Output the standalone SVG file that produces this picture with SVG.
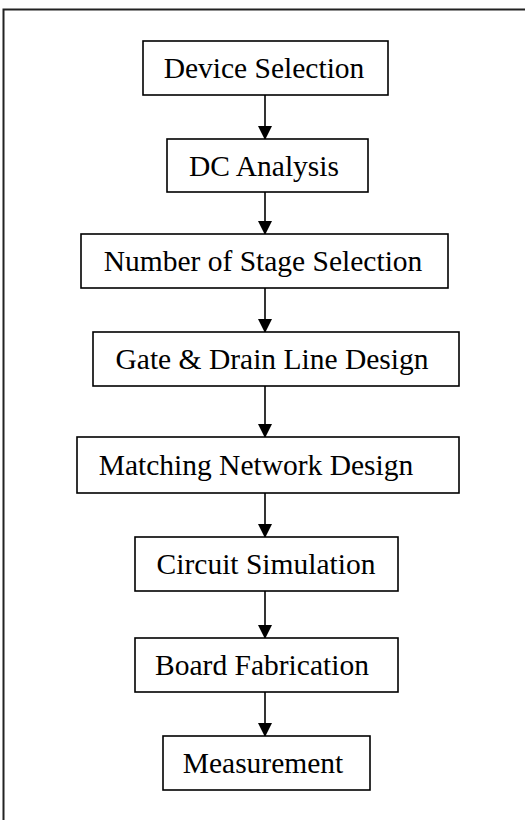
<svg xmlns="http://www.w3.org/2000/svg" width="525" height="820" viewBox="0 0 525 820">
<style>
.box{fill:#fff;stroke:#000;stroke-width:1.6}
.lbl{font-family:"Liberation Serif","Times New Roman",serif;font-size:29.5px;fill:#000;text-anchor:middle}
.frame{fill:none;stroke:#222;stroke-width:2}
.edge{stroke:#000;stroke-width:1.6;fill:none;marker-end:url(#ah)}
</style>
<defs>
<marker id="ah" markerUnits="userSpaceOnUse" markerWidth="14" markerHeight="16" refX="13" refY="7" orient="auto">
<path d="M0,0 L14,7 L0,14 Z" fill="#000"/>
</marker>
</defs>
<path class="frame" d="M3.5,830 L3.5,9.5 L530,9.5"/>
<g id="connectors">
<line class="edge" x1="265" y1="95" x2="265" y2="139"/>
<line class="edge" x1="265" y1="192" x2="265" y2="234"/>
<line class="edge" x1="265" y1="288" x2="265" y2="332"/>
<line class="edge" x1="265" y1="386" x2="265" y2="437"/>
<line class="edge" x1="265" y1="493" x2="265" y2="537"/>
<line class="edge" x1="265" y1="591" x2="265" y2="638"/>
<line class="edge" x1="265" y1="692" x2="265" y2="736"/>
</g>
<g id="n1"><rect class="box" x="143" y="41" width="245" height="54"/><text class="lbl" x="264" y="78">Device Selection</text></g>
<g id="n2"><rect class="box" x="167" y="139" width="201" height="53"/><text class="lbl" x="264" y="176">DC Analysis</text></g>
<g id="n3"><rect class="box" x="81" y="234" width="367" height="54"/><text class="lbl" x="263" y="271">Number of Stage Selection</text></g>
<g id="n4"><rect class="box" x="93" y="332" width="366" height="54"/><text class="lbl" x="272" y="369">Gate &amp; Drain Line Design</text></g>
<g id="n5"><rect class="box" x="77" y="437" width="382" height="56"/><text class="lbl" x="256" y="475">Matching Network Design</text></g>
<g id="n6"><rect class="box" x="135" y="537" width="263" height="54"/><text class="lbl" x="266" y="574">Circuit Simulation</text></g>
<g id="n7"><rect class="box" x="135" y="638" width="263" height="54"/><text class="lbl" x="262" y="675">Board Fabrication</text></g>
<g id="n8"><rect class="box" x="163" y="736" width="207" height="54"/><text class="lbl" x="263" y="773">Measurement</text></g>
</svg>
